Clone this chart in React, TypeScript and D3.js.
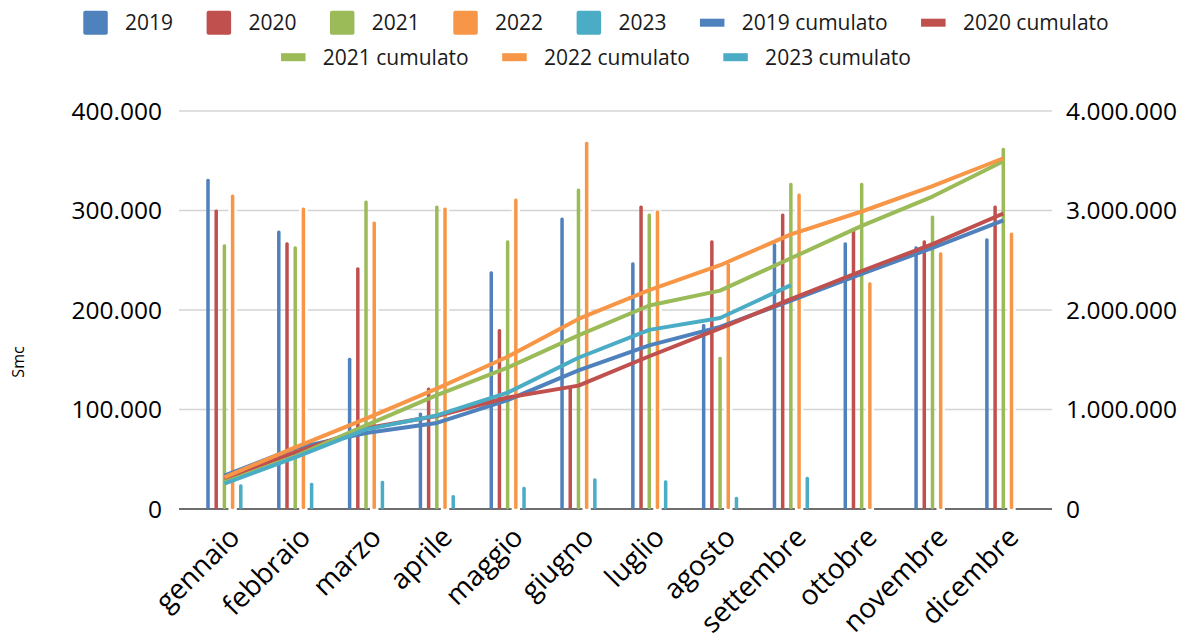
import { useEffect, useRef } from "react";
import * as d3 from "d3";

const months = [
  "gennaio", "febbraio", "marzo", "aprile", "maggio", "giugno",
  "luglio", "agosto", "settembre", "ottobre", "novembre", "dicembre",
];

// monthly values (Smc), left axis
const v2019 = [332000, 280000, 152000, 97000, 239000, 293000, 248000, 186000, 267000, 268000, 264000, 272000];
const v2020 = [301000, 268000, 243000, 122000, 181000, 123000, 305000, 270000, 297000, 282000, 270000, 305000];
const v2021 = [266000, 264000, 310000, 305000, 270000, 322000, 297000, 153000, 328000, 328000, 295000, 363000];
const v2022 = [316000, 303000, 289000, 303000, 312000, 369000, 300000, 247000, 317000, 228000, 258000, 278000];
// 2023 bars sit on the right axis
const v2023 = [248000, 265000, 285000, 140000, 224000, 308000, 290000, 124000, 325000];

// cumulative lines, right axis
const cum2019 = [335000, 612000, 764000, 865000, 1095000, 1393000, 1645000, 1830000, 2095000, 2362000, 2625000, 2900000];
const cum2020 = [305000, 570000, 812000, 935000, 1120000, 1240000, 1535000, 1815000, 2110000, 2392000, 2662000, 2970000];
const cum2021 = [268000, 530000, 840000, 1145000, 1420000, 1745000, 2045000, 2195000, 2520000, 2845000, 3140000, 3495000];
const cum2022 = [318000, 620000, 908000, 1210000, 1530000, 1910000, 2200000, 2450000, 2760000, 2990000, 3245000, 3525000];
const cum2023 = [255000, 520000, 800000, 940000, 1170000, 1520000, 1800000, 1920000, 2250000];

const leftTicks = [0, 100000, 200000, 300000, 400000];
const rightTicks = [0, 1000000, 2000000, 3000000, 4000000];

const colors = ["#4F81BD", "#C0504D", "#9BBB59", "#F79646", "#4BACC6"];
const years = ["2019", "2020", "2021", "2022", "2023"];

function App() {
  const svgRef = useRef(null);

  useEffect(() => {
    document.body.style.margin = "0";
    const width = 1190;
    const height = 643;
    const font = "'Open Sans', sans-serif";

    const svg = d3.select(svgRef.current).attr("width", width).attr("height", height);
    svg.selectAll("*").remove();

    const x = d3.scalePoint().domain(months).range([224.4, 1003.3]);
    const yL = d3.scaleLinear().domain([0, 400000]).range([509, 111]);
    const yR = d3.scaleLinear().domain([0, 4000000]).range([509, 111]);
    const fmt = (v) => d3.format(",")(v).replace(/,/g, ".");

    // gridlines
    svg.append("g")
      .selectAll("line")
      .data(leftTicks.slice(1))
      .join("line")
      .attr("x1", 179)
      .attr("x2", 1052)
      .attr("y1", d => yL(d))
      .attr("y2", d => yL(d))
      .attr("stroke", "#d4d4d4")
      .attr("stroke-width", 1.5);

    svg.append("line")
      .attr("x1", 179)
      .attr("x2", 1052)
      .attr("y1", yL(0))
      .attr("y2", yL(0))
      .attr("stroke", "#6e6e6e")
      .attr("stroke-width", 1.8);

    // axis labels
    svg.append("g")
      .selectAll("text")
      .data(leftTicks)
      .join("text")
      .attr("x", 162)
      .attr("y", d => yL(d))
      .attr("dy", "0.35em")
      .attr("text-anchor", "end")
      .attr("font-family", font)
      .attr("font-size", 24.5)
      .attr("fill", "#000")
      .text(d => fmt(d));

    svg.append("g")
      .selectAll("text")
      .data(rightTicks)
      .join("text")
      .attr("x", 1066)
      .attr("y", d => yR(d))
      .attr("dy", "0.35em")
      .attr("font-family", font)
      .attr("font-size", 24.5)
      .attr("fill", "#000")
      .text(d => fmt(d));

    svg.append("text")
      .attr("transform", "translate(24,362) rotate(-90)")
      .attr("text-anchor", "middle")
      .attr("font-family", font)
      .attr("font-size", 16)
      .attr("fill", "#000")
      .text("Smc");

    svg.append("g")
      .selectAll("text")
      .data(months)
      .join("text")
      .attr("transform", d => `translate(${x(d) + 17},539) rotate(-45)`)
      .attr("text-anchor", "end")
      .attr("font-family", font)
      .attr("font-size", 28)
      .attr("fill", "#000")
      .text(d => d);

    // bars
    const barW = 3.5;
    const step = 8.2;
    const barSeries = [
      { vals: v2019, y: yL },
      { vals: v2020, y: yL },
      { vals: v2021, y: yL },
      { vals: v2022, y: yL, halo: true },
      { vals: v2023, y: yR },
    ];
    barSeries.forEach((s, k) => {
      const g = svg.append("g");
      const cx = (i) => x(months[i]) + (k - 2) * step;
      if (s.halo) {
        g.selectAll("rect.halo")
          .data(s.vals)
          .join("rect")
          .attr("class", "halo")
          .attr("x", (d, i) => cx(i) - 4.2)
          .attr("width", 8.4)
          .attr("y", d => s.y(d))
          .attr("height", d => s.y(0) - s.y(d) + 1.5)
          .attr("fill", "#fff");
      }
      g.selectAll("rect.bar")
        .data(s.vals)
        .join("rect")
        .attr("class", "bar")
        .attr("x", (d, i) => cx(i) - barW / 2)
        .attr("width", barW)
        .attr("y", d => s.y(d))
        .attr("height", d => s.y(0) - s.y(d))
        .attr("rx", 1.5)
        .attr("fill", colors[k]);
    });

    // cumulative lines
    const line = d3.line()
      .x((d, i) => x(months[i]))
      .y(d => yR(d));
    [cum2019, cum2020, cum2021, cum2022, cum2023].forEach((c, k) => {
      svg.append("path")
        .datum(c)
        .attr("fill", "none")
        .attr("stroke", colors[k])
        .attr("stroke-width", 4)
        .attr("stroke-linejoin", "round")
        .attr("d", line);
    });

    // legend
    const items = [
      ...years.map((y, k) => ({ label: y, color: colors[k], type: "bar" })),
      ...years.map((y, k) => ({ label: `${y} cumulato`, color: colors[k], type: "line" })),
    ];
    const rows = [items.slice(0, 7), items.slice(7)];
    const rowBase = [30, 64.5];
    rows.forEach((row, r) => {
      const rg = svg.append("g");
      let cur = 0;
      row.forEach((it) => {
        const ig = rg.append("g").attr("transform", `translate(${cur},0)`);
        const mid = rowBase[r] - 7.3;
        if (it.type === "bar") {
          ig.append("rect").attr("x", 0).attr("y", mid - 12).attr("width", 24.5).attr("height", 24)
            .attr("rx", 2).attr("fill", it.color);
        } else {
          ig.append("rect").attr("x", 0).attr("y", mid - 4).attr("width", 24.5).attr("height", 8)
            .attr("fill", it.color);
        }
        const t = ig.append("text")
          .attr("x", 41.8)
          .attr("y", rowBase[r])
          .attr("font-family", font)
          .attr("font-size", 21)
          .attr("fill", "#1a1a1a")
          .text(it.label);
        const w = t.node().getComputedTextLength();
        cur += 41.8 + w + 33.5;
      });
      const total = cur - 33.5;
      rg.attr("transform", `translate(${596 - total / 2},0)`);
    });
  }, []);

  return <svg ref={svgRef}></svg>;
}

export default App;
